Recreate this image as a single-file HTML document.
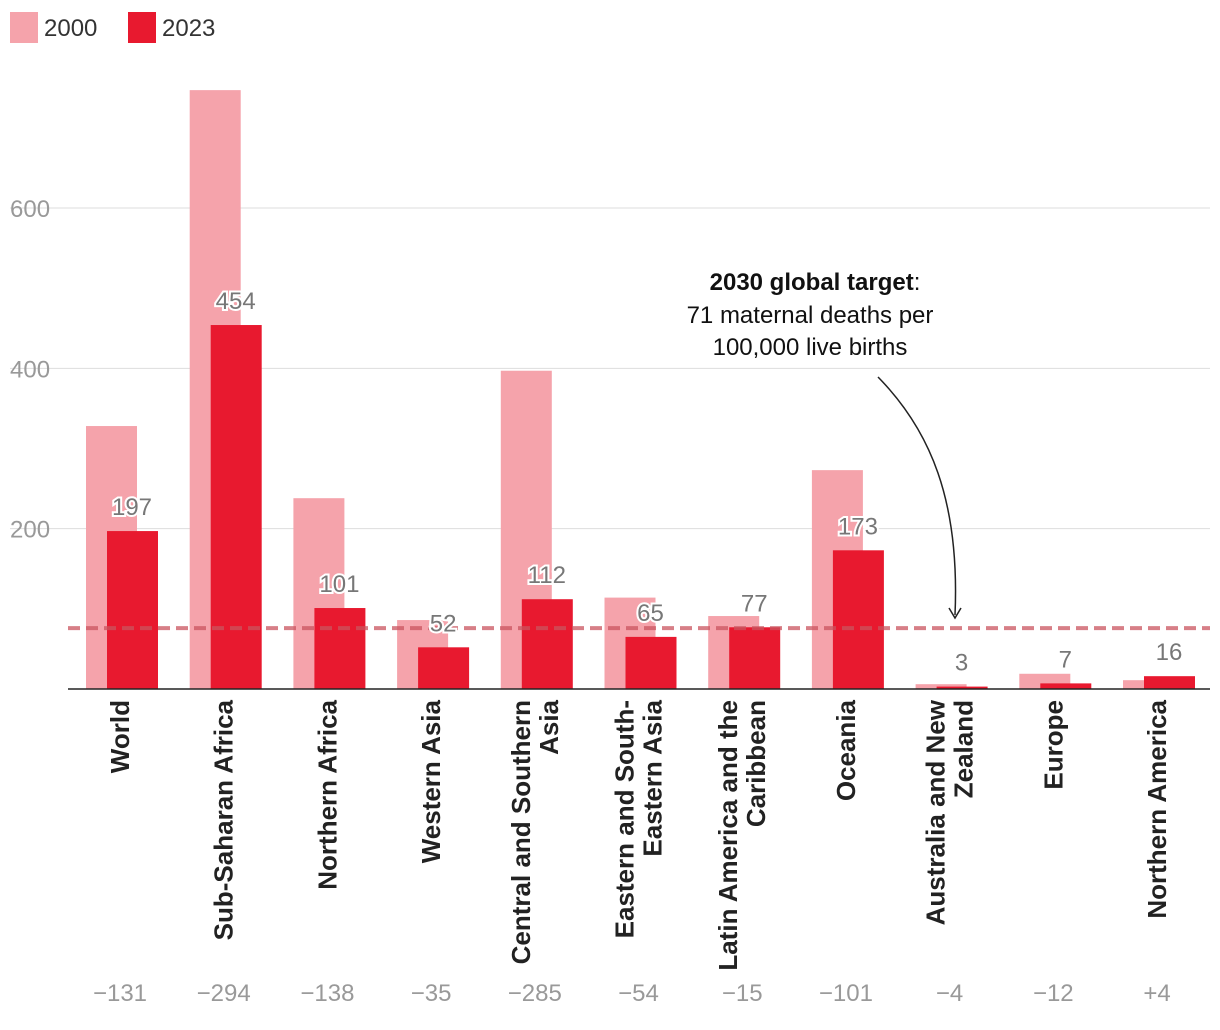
<!DOCTYPE html>
<html><head><meta charset="utf-8"><style>
body{margin:0;background:#fff;}
svg{display:block;font-family:"Liberation Sans",sans-serif;}
</style></head><body>
<svg id="chart" width="1220" height="1030">
<g>
<rect x="10" y="12" width="28" height="31" fill="#f5a3ab"/>
<text x="44" y="36" font-size="24" fill="#333">2000</text>
<rect x="128" y="12" width="28" height="31" fill="#e8192f"/>
<text x="162" y="36" font-size="24" fill="#333">2023</text>
</g>
<g id="grid"></g>
<g id="bars"></g>
<g id="labels"></g>
<g>
<text x="815" y="290" font-size="24" text-anchor="middle" fill="#111"><tspan font-weight="bold">2030 global target</tspan>:</text>
<text x="810" y="323" font-size="24" text-anchor="middle" fill="#111">71 maternal deaths per</text>
<text x="810" y="355" font-size="24" text-anchor="middle" fill="#111">100,000 live births</text>
<path d="M878,377 C930,430 960,500 955,615" fill="none" stroke="#222" stroke-width="1.5"/>
<path d="M949,608 L955,618 L961,608" fill="none" stroke="#222" stroke-width="1.5"/>
</g>
</svg>
<script>
const categories=["World","Sub-Saharan Africa","Northern Africa","Western Asia","Central and Southern|Asia","Eastern and South-|Eastern Asia","Latin America and the|Caribbean","Oceania","Australia and New|Zealand","Europe","Northern America"];
const values2000=[328,747,238,86,397,114,91,273,6,19,11];
const values2023=[197,454,101,52,112,65,77,173,3,7,16];
const changes=["\u2212131","\u2212294","\u2212138","\u221235","\u2212285","\u221254","\u221215","\u2212101","\u22124","\u221212","+4"];
const yTicks=[200,400,600];
const target=76;
const NS="http://www.w3.org/2000/svg";
const y0=689, k=0.8017;
const y=v=>y0-v*k;
const gx=i=>86+i*103.7;
function mk(tag,attrs,parent){const e=document.createElementNS(NS,tag);for(const a in attrs)e.setAttribute(a,attrs[a]);parent.appendChild(e);return e;}
const grid=document.getElementById('grid'),bars=document.getElementById('bars'),labels=document.getElementById('labels');
yTicks.forEach(t=>{
 const l=mk('line',{x1:10,x2:1210,y1:y(t),y2:y(t),stroke:'#ddd','stroke-width':1},grid);
 
 
 const tx=mk('text',{x:10,y:y(t)+9,'font-size':24,fill:'#999'},grid);tx.textContent=t;
 
 
});
categories.forEach((c,i)=>{
 const x=gx(i);
 const b1=mk('rect',{x:x,y:y(values2000[i]),width:51,height:values2000[i]*k,fill:'#f5a3ab'},bars);
 
 
 const b2=mk('rect',{x:x+21,y:y(values2023[i]),width:51,height:values2023[i]*k,fill:'#e8192f'},bars);
 
 
 const vl=mk('text',{x:x+46,y:y(values2023[i])-16,'font-size':24,fill:'#777','text-anchor':'middle',stroke:'#fff','stroke-width':4,'paint-order':'stroke'},labels);
 vl.textContent=values2023[i];
 
 
 const parts=c.split('|');
 const cx=x+34;
 const g=mk('text',{transform:`translate(${cx},700) rotate(-90)`,'font-size':26,'font-weight':'bold',fill:'#222','text-anchor':'end'},labels);
 
 
 parts.forEach((p,j)=>{const ts=mk('tspan',{x:0,dy:j==0?(parts.length==1?9:-5):28},g);ts.textContent=p;});
 const ch=mk('text',{x:cx,y:1001,'font-size':24,fill:'#999','text-anchor':'middle'},labels);
 ch.textContent=changes[i];
 
 
});
const base=mk('line',{x1:68,x2:1210,y1:y0,y2:y0,stroke:'#222','stroke-width':1.5},bars);


const tl=mk('line',{x1:68,x2:1210,y1:y(target),y2:y(target),stroke:'#c9545f','stroke-opacity':0.75,'stroke-width':4,'stroke-dasharray':'12,6'},bars);


</script>
</body></html>
